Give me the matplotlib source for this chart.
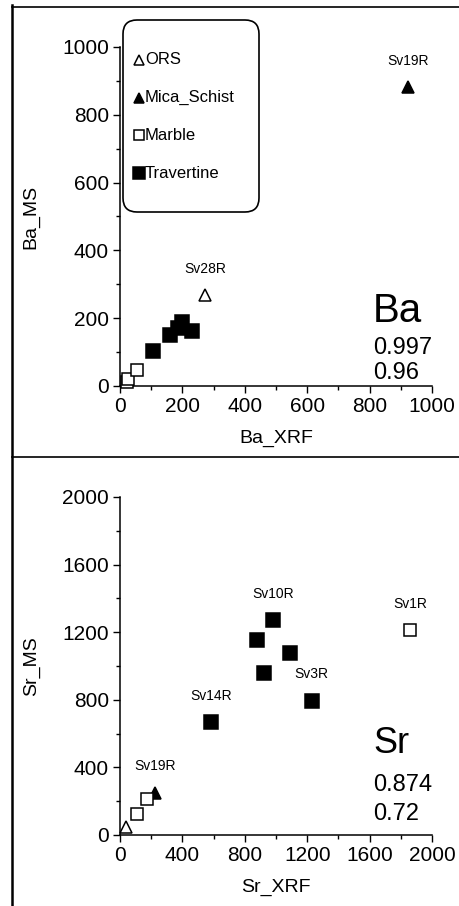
import matplotlib
matplotlib.use("Agg")
import matplotlib.pyplot as plt
from matplotlib.lines import Line2D
from matplotlib.patches import FancyBboxPatch
from matplotlib.ticker import MultipleLocator

plt.rcParams['font.family'] = ['Liberation Sans', 'DejaVu Sans']

# Ba panel
ba_ors_x = [272]
ba_ors_y = [268]
ba_mica_x = [924]
ba_mica_y = [881]
ba_marble_x = [21, 27, 53]
ba_marble_y = [13, 21, 47]
ba_trav_x = [105, 160, 185, 198, 232]
ba_trav_y = [103, 150, 172, 188, 162]
ba_labels = [("Sv19R", 924, 881), ("Sv28R", 272, 268)]
ba_stats = ["Ba", "0.997", "0.96"]

# Sr panel
sr_ors_x = [40]
sr_ors_y = [45]
sr_mica_x = [225]
sr_mica_y = [250]
sr_marble_x = [107, 171, 1859]
sr_marble_y = [124, 211, 1213]
sr_trav_x = [581, 876, 925, 983, 1090, 1229]
sr_trav_y = [667, 1154, 960, 1272, 1075, 795]
sr_labels = [("Sv10R", 983, 1272), ("Sv1R", 1859, 1213), ("Sv3R", 1229, 795),
             ("Sv14R", 581, 667), ("Sv19R", 225, 250)]
sr_stats = ["Sr", "0.874", "0.72"]

groups = ["ORS", "Mica_Schist", "Marble", "Travertine"]

# marker, face colour, size
styles = [("^", "white", 8.0), ("^", "black", 8.0), ("s", "white", 8.5), ("s", "black", 9.5)]


def draw_panel(ax, xs, ys, labels, stats, lim, major, xname, yname, stat_y, big):
	for x, y, (m, fc, ms) in zip(xs, ys, styles):
		ax.plot(x, y, linestyle="none", marker=m, markerfacecolor=fc, markeredgecolor="black",
				markersize=ms, markeredgewidth=1.1, clip_on=False, zorder=3)
	for text, x, y in labels:
		ax.annotate(text, (x, y), xytext=(0, 19), textcoords="offset points",
					ha="center", va="center", fontsize=10)
	ax.set_xlim(0, lim)
	ax.set_ylim(0, lim)
	ax.xaxis.set_major_locator(MultipleLocator(major))
	ax.yaxis.set_major_locator(MultipleLocator(major))
	ax.xaxis.set_minor_locator(MultipleLocator(major / 2))
	ax.yaxis.set_minor_locator(MultipleLocator(major / 2))
	ax.tick_params(which="major", direction="out", length=5, width=1, labelsize=15, pad=3)
	ax.tick_params(which="minor", direction="out", length=3, width=1)
	for side in ("top", "right"):
		ax.spines[side].set_visible(False)
	for side in ("left", "bottom"):
		ax.spines[side].set_linewidth(1.1)
	ax.set_xlabel(xname, fontsize=14, labelpad=10)
	ax.set_ylabel(yname, fontsize=14, labelpad=16)
	sizes = [big, 17, 17]
	for text, yy, fs in zip(stats, stat_y, sizes):
		ax.text(0.811, yy, text, transform=ax.transAxes, fontsize=fs, ha="left", va="baseline")


fig = plt.figure(figsize=(4.6, 9.06), dpi=100)
ax_ba = fig.add_axes([0.2609, 0.5740, 0.6783, 0.3742])
ax_sr = fig.add_axes([0.2609, 0.0784, 0.6783, 0.3731])

draw_panel(ax_ba, [ba_ors_x, ba_mica_x, ba_marble_x, ba_trav_x],
		   [ba_ors_y, ba_mica_y, ba_marble_y, ba_trav_y],
		   ba_labels, ba_stats, 1000, 200, "Ba_XRF", "Ba_MS", [0.189, 0.094, 0.021], 29)
draw_panel(ax_sr, [sr_ors_x, sr_mica_x, sr_marble_x, sr_trav_x],
		   [sr_ors_y, sr_mica_y, sr_marble_y, sr_trav_y],
		   sr_labels, sr_stats, 2000, 400, "Sr_XRF", "Sr_MS", [0.243, 0.130, 0.044], 26)

# legend box with rounded corners, drawn in inches
box = FancyBboxPatch((1.23, 9.06 - 2.12), 1.36, 1.92, boxstyle="round,pad=0,rounding_size=0.14",
					 transform=fig.dpi_scale_trans, facecolor="white", edgecolor="black", lw=1.2)
fig.add_artist(box)
for i, (name, (m, fc, ms)) in enumerate(zip(groups, styles)):
	yy = 9.06 - (0.60 + 0.377 * i)
	fig.add_artist(Line2D([1.385], [yy], transform=fig.dpi_scale_trans, linestyle="none",
						  marker=m, markerfacecolor=fc, markeredgecolor="black",
						  markersize=ms * 0.9, markeredgewidth=1.1))
	fig.text(1.45, yy, name, transform=fig.dpi_scale_trans, fontsize=12, ha="left", va="center")

# outer frame of the page
fig.add_artist(Line2D([12 / 460, 12 / 460], [0, 1 - 5 / 906], color="black", lw=1.8))
fig.add_artist(Line2D([12 / 460, 1], [1 - 7 / 906, 1 - 7 / 906], color="black", lw=1.2))
fig.add_artist(Line2D([12 / 460, 1], [1 - 457 / 906, 1 - 457 / 906], color="black", lw=1.2))

fig.savefig("out.png", dpi=100)
